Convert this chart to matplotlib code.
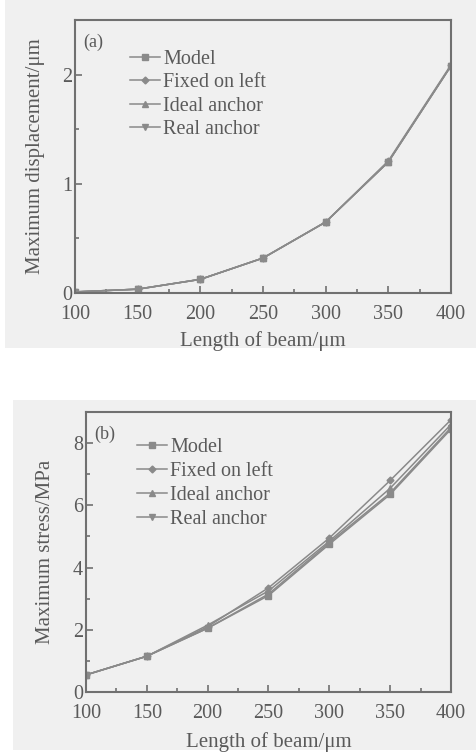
import matplotlib
matplotlib.use('Agg')
import matplotlib.pyplot as plt
from matplotlib.patches import Rectangle
from matplotlib.ticker import MultipleLocator

# beam length (um)
lengths = [100, 150, 200, 250, 300, 350, 400]

# (a) maximum displacement, um
disp_model = [0.01, 0.035, 0.125, 0.32, 0.65, 1.20, 2.08]
disp_fixed = [0.01, 0.035, 0.125, 0.32, 0.65, 1.21, 2.09]
disp_ideal = [0.01, 0.035, 0.125, 0.32, 0.65, 1.20, 2.08]
disp_real = [0.01, 0.035, 0.125, 0.32, 0.65, 1.20, 2.08]

# (b) maximum stress, MPa
stress_model = [0.55, 1.15, 2.05, 3.10, 4.75, 6.35, 8.45]
stress_fixed = [0.55, 1.15, 2.10, 3.35, 4.95, 6.80, 8.75]
stress_ideal = [0.55, 1.15, 2.15, 3.25, 4.85, 6.55, 8.60]
stress_real = [0.55, 1.15, 2.05, 3.15, 4.80, 6.40, 8.50]

labels = ['Model', 'Fixed on left', 'Ideal anchor', 'Real anchor']
markers = ['s', 'D', '^', 'v']
msizes = [5, 3.5, 4.5, 4.5]

PANEL = '#f0f0f0'
INK = '#707070'
TXT = '#5a5a5a'

plt.rcParams['font.family'] = ['Liberation Serif', 'DejaVu Serif']

fig = plt.figure(figsize=(4.77, 7.55), dpi=100)
# grey scan background behind each panel
fig.add_artist(Rectangle((5 / 477, 1 - 348 / 755), 472 / 477, 348 / 755,
                         transform=fig.transFigure, facecolor=PANEL, edgecolor='none', zorder=-5))
fig.add_artist(Rectangle((13 / 477, 1 - 750 / 755), 464 / 477, 350 / 755,
                         transform=fig.transFigure, facecolor=PANEL, edgecolor='none', zorder=-5))


def style_axes(ax, ylim, ymajor, yminor, ylabel, tag, xpad, ypad):
    ax.set_facecolor(PANEL)
    ax.set_xlim(100, 400)
    ax.set_ylim(*ylim)
    ax.xaxis.set_major_locator(MultipleLocator(50))
    ax.xaxis.set_minor_locator(MultipleLocator(25))
    ax.yaxis.set_major_locator(MultipleLocator(ymajor))
    ax.yaxis.set_minor_locator(MultipleLocator(yminor))
    ax.tick_params(which='both', direction='in', colors=INK, labelcolor=TXT,
                   labelsize=14.5, top=False, right=False, width=1.2)
    ax.tick_params(which='major', length=5)
    ax.tick_params(which='minor', length=3)
    ax.tick_params(axis='x', pad=8.5)
    ax.tick_params(axis='y', pad=2)
    for sp in ax.spines.values():
        sp.set_color(INK)
        sp.set_linewidth(1.5)
    ax.set_xlabel('Length of beam/\u03bcm', fontsize=15, color=TXT, labelpad=xpad)
    ax.set_ylabel(ylabel, fontsize=15, color=TXT, labelpad=ypad)
    ax.text(0.022, 0.95, tag, transform=ax.transAxes, fontsize=13, color=TXT, va='top')


def draw(ax, series, anchor, spacing):
    for vals, lab, m, ms in zip(series, labels, markers, msizes):
        ax.plot(lengths, vals, color='#8a8a8a', lw=1.1, marker=m, ms=ms,
                mfc='#8a8a8a', mec='#8a8a8a', label=lab)
    ax.legend(loc='upper left', bbox_to_anchor=anchor, frameon=False, fontsize=14.5,
              handlelength=1.5, handletextpad=0.15, labelspacing=spacing,
              borderpad=0, borderaxespad=0, labelcolor=TXT)


ax1 = fig.add_axes([75 / 477, 1 - 293 / 755, 376 / 477, 273 / 755])
draw(ax1, [disp_model, disp_fixed, disp_ideal, disp_real], (0.146, 0.892), 0.22)
style_axes(ax1, (0, 2.5), 1, 0.5, 'Maximum displacement/\u03bcm', '(a)', 5, 12)

ax2 = fig.add_axes([86 / 477, 1 - 692 / 755, 365 / 477, 280 / 755])
draw(ax2, [stress_model, stress_fixed, stress_ideal, stress_real], (0.139, 0.909), 0.25)
style_axes(ax2, (0, 9), 2, 1, 'Maximum stress/MPa', '(b)', 7, 13)

fig.savefig('out.png', dpi=100, facecolor='white')
